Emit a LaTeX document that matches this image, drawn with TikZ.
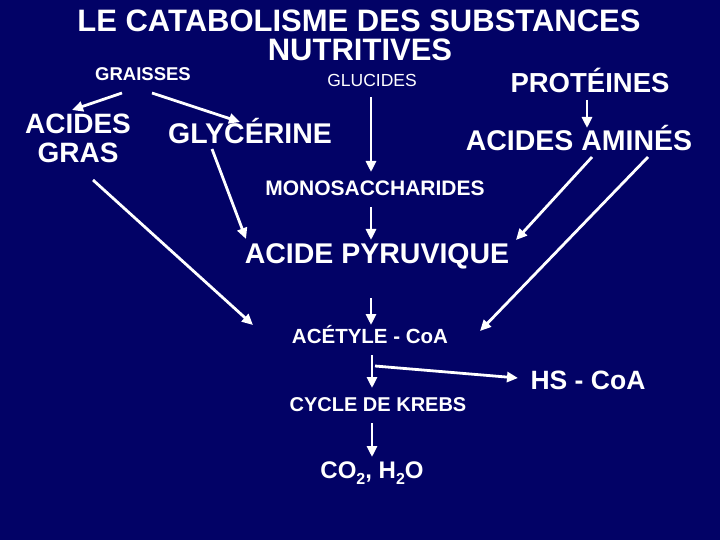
\documentclass[tikz,border=0pt]{standalone}
\usepackage{fontspec}
\setmainfont{Liberation Sans}
\usetikzlibrary{arrows.meta,calc}
\definecolor{bgnavy}{RGB}{2,2,102}
\newcommand{\fs}[1]{\fontsize{#1}{#1}\selectfont}
\newcommand{\subtwo}{\raisebox{-0.28em}{\fontsize{16}{16}\selectfont 2}}
\tikzset{
  lbl/.style={text=white, inner sep=0pt, anchor=base, font=\bfseries},
  arr/.style={draw=white, line width=2.8pt, -{Triangle[length=11pt,width=10pt]}},
}
\begin{document}
\begin{tikzpicture}[x=1pt,y=-1pt]
\fill[bgnavy] (0,0) rectangle (720,540);
\useasboundingbox (0,0) rectangle (720,540);

\node[lbl, font=\bfseries\fs{31}] (title1) at (359,32) {LE CATABOLISME DES SUBSTANCES};
\node[lbl, font=\bfseries\fs{31}] (title2) at (360,61) {NUTRITIVES};

\node[lbl, font=\bfseries\fs{18.5}] (grais) at (143,81) {GRAISSES};
\node[lbl, font=\fs{17.5}] (gluc) at (372,87) {GLUCIDES};
\node[lbl, font=\bfseries\fs{27.5}] (prot) at (590,93) {PROTÉINES};

\node[lbl, align=center, font=\bfseries\fontsize{28}{29}\selectfont] (ag) at (78,163) {ACIDES\\GRAS};
\node[lbl, font=\bfseries\fs{28.5}] (gly) at (250,144) {GLYCÉRINE};
\node[lbl, font=\bfseries\fs{28.5}] (aa) at (579,151) {ACIDES AMINÉS};

\node[lbl, font=\bfseries\fs{21}] (mono) at (375,196) {MONOSACCHARIDES};
\node[lbl, font=\bfseries\fs{28.5}] (pyr) at (377,263) {ACIDE PYRUVIQUE};
\node[lbl, font=\bfseries\fs{20.5}] (acet) at (370,343) {ACÉTYLE - CoA};
\node[lbl, font=\bfseries\fs{26.5}] (hs) at (588,389) {HS - CoA};
\node[lbl, font=\bfseries\fs{20}] (krebs) at (378,411) {CYCLE DE KREBS};
\node[lbl, font=\bfseries\fs{24}] (co2) at (372,478) {CO\subtwo, H\subtwo O};

\draw[arr] ($(grais.base)+(-21,12)$) -- ($(ag.base)+(-6,-53)$);
\draw[arr] ($(grais.base)+(9,12)$) -- ($(gly.base)+(-10,-22)$);
\draw[arr] ($(gluc.base)+(-1,10)$) -- ($(mono.base)+(-4,-24)$);
\draw[arr] ($(prot.base)+(-3,7)$) -- ($(aa.base)+(8,-23)$);
\draw[arr] ($(ag.base)+(15,17)$) -- ($(acet.base)+(-117,-18)$);
\draw[arr] ($(gly.base)+(-38,5)$) -- ($(pyr.base)+(-131,-24)$);
\draw[arr] ($(mono.base)+(-4,11)$) -- ($(pyr.base)+(-6,-23)$);
\draw[arr] ($(aa.base)+(13,6)$) -- ($(pyr.base)+(139,-23)$);
\draw[arr] ($(aa.base)+(69,6)$) -- ($(acet.base)+(110,-12)$);
\draw[arr] ($(pyr.base)+(-6,35)$) -- ($(acet.base)+(1,-18)$);
\draw[arr] ($(acet.base)+(2,12)$) -- ($(krebs.base)+(-6,-23)$);
\coordinate (br) at ($(acet.base)+(5,23)$);
\draw[arr] (br) -- ($(hs.base)+(-70,-11)$);
\draw[arr] ($(krebs.base)+(-6,12)$) -- ($(co2.base)+(0,-21)$);
\end{tikzpicture}
\end{document}
